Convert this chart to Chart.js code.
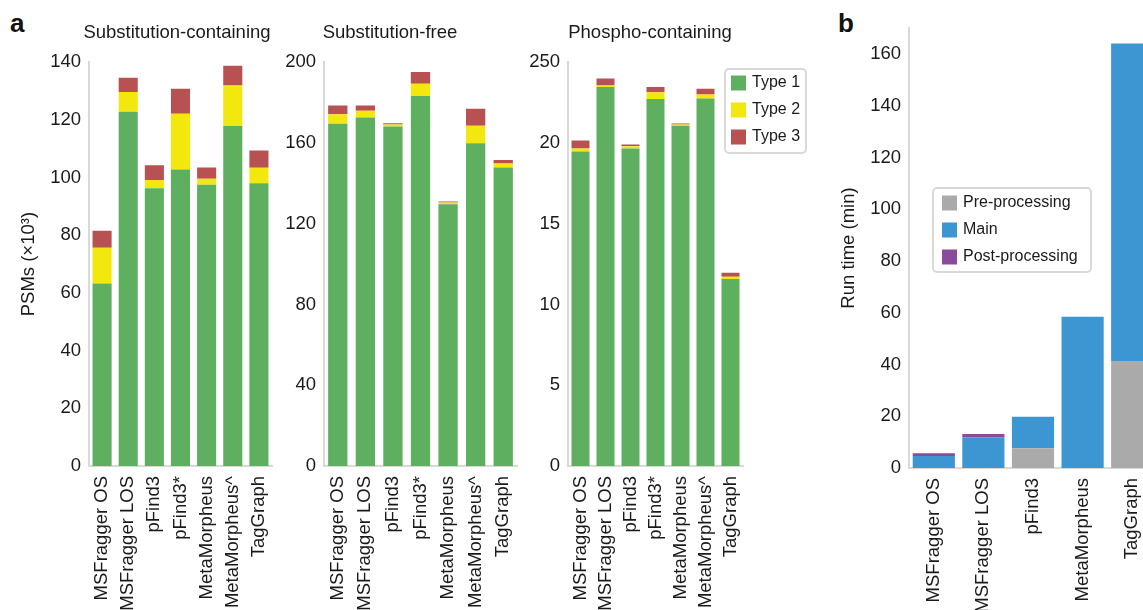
<!DOCTYPE html>
<html>
<head>
<meta charset="utf-8">
<script src="https://cdn.jsdelivr.net/npm/chart.js@4"></script>
<style>
  html, body { margin: 0; padding: 0; background: #fff; }
  body { width: 1143px; height: 610px; overflow: hidden; position: relative; font-family: "Liberation Sans", Arial, sans-serif; }
  .panel { position: absolute; top: 0; height: 610px; }
  .tag { position: absolute; font-weight: bold; font-size: 26px; line-height: 26px; color: #111; }
</style>
</head>
<body>
<div class="tag" style="left:10px; top:10px;">a</div>
<div class="tag" style="left:838px; top:10px;">b</div>
<div class="panel" style="left:0px; width:354px;"><canvas id="subChart"></canvas></div>
<div class="panel" style="left:230px; width:320px;"><canvas id="freeChart"></canvas></div>
<div class="panel" style="left:490px; width:320px;"><canvas id="phosphoChart"></canvas></div>
<div class="panel" style="left:820px; width:360px;"><canvas id="runChart"></canvas></div>
<script>
// categories
const tools = ['MSFragger OS', 'MSFragger LOS', 'pFind3', 'pFind3*', 'MetaMorpheus', 'MetaMorpheus^', 'TagGraph'];
const typeLabels = ['Type 1', 'Type 2', 'Type 3'];

// Substitution-containing PSMs (x10^3)
const subType1 = [63.3, 122.8, 96.3, 102.8, 97.5, 117.9, 98.0];
const subType2 = [12.4, 6.9, 2.9, 19.3, 2.1, 14.0, 5.4];
const subType3 = [5.9, 4.9, 5.1, 8.7, 3.9, 6.9, 6.0];
const subTicks = [0, 20, 40, 60, 80, 100, 120, 140];

// Substitution-free PSMs (x10^3)
const freeType1 = [169.5, 172.6, 168.2, 183.3, 129.6, 159.8, 147.9];
const freeType2 = [4.7, 3.3, 1.0, 6.0, 0.9, 8.7, 1.9];
const freeType3 = [4.4, 2.7, 0.6, 5.9, 0.5, 8.5, 1.8];
const freeTicks = [0, 40, 80, 120, 160, 200];

// Phospho-containing PSMs (x10^3)
const phosType1 = [19.47, 23.47, 19.66, 22.72, 21.07, 22.76, 11.57];
const phosType2 = [0.18, 0.08, 0.14, 0.42, 0.08, 0.24, 0.14];
const phosType3 = [0.51, 0.44, 0.10, 0.33, 0.06, 0.36, 0.25];
const phosTicks = [0, 5, 10, 15, 20, 25];
const phosTickLabels = ['0', '5', '10', '15', '20', '250'];

// Run time (min)
const runTools = ['MSFragger OS', 'MSFragger LOS', 'pFind3', 'MetaMorpheus', 'TagGraph'];
const stageLabels = ['Pre-processing', 'Main', 'Post-processing'];
const preTime = [0, 0, 7.6, 0, 41.3];
const mainTime = [4.6, 11.9, 12.2, 58.4, 122.7];
const postTime = [1.1, 1.2, 0, 0, 0];
const runTicks = [0, 20, 40, 60, 80, 100, 120, 140, 160];

const typeColors = ['#5eb060', '#f3e80e', '#b85152'];
const stageColors = ['#aaaaaa', '#3b96d2', '#8a4a9e'];
const fontFamily = '"Liberation Sans", Arial, sans-serif';
const textColor = '#1a1a1a';
const axisColor = '#d9d9d9';
const textSize = 18.5;

Chart.defaults.font.family = fontFamily;
Chart.defaults.color = textColor;
Chart.defaults.animation = false;

// legend drawn as a framed box at a fixed spot
const boxLegend = {
  id: 'boxLegend',
  afterDraw(chart, args, opts) {
    const ctx = chart.ctx;
    ctx.save();
    ctx.strokeStyle = axisColor;
    ctx.lineWidth = 2;
    ctx.beginPath();
    ctx.roundRect(opts.x, opts.y, opts.w, opts.h, 4);
    ctx.stroke();
    ctx.font = '16px ' + fontFamily;
    ctx.textBaseline = 'middle';
    opts.order.forEach((idx, k) => {
      const ds = chart.data.datasets[idx];
      const cy = opts.y + opts.first + k * opts.step;
      ctx.fillStyle = ds.backgroundColor;
      ctx.fillRect(opts.sx, cy - opts.box / 2, opts.box, opts.box);
      ctx.fillStyle = textColor;
      ctx.fillText(ds.label, opts.tx, cy);
    });
    ctx.restore();
  }
};

function makeDatasets(labels, colors, series, barPct) {
  return series.map((data, i) => ({
    label: labels[i],
    data: data,
    backgroundColor: colors[i],
    borderWidth: 0,
    barPercentage: barPct,
    categoryPercentage: 1
  }));
}

function stackedChart(id, cfg) {
  const ctx = document.getElementById(id).getContext('2d');
  const scales = {
    x: {
      stacked: true,
      grid: { display: false, drawTicks: false },
      border: { display: true, color: axisColor, width: 2 },
      ticks: {
        autoSkip: false,
        minRotation: 90,
        maxRotation: 90,
        padding: 10,
        font: { size: textSize },
        color: textColor
      },
      afterFit: scale => { scale.height = cfg.xHeight; }
    },
    y: {
      stacked: true,
      min: 0,
      max: cfg.yMax,
      grid: { display: false, drawTicks: false },
      border: { display: true, color: axisColor, width: 2 },
      title: cfg.yTitle ? {
        display: true,
        text: cfg.yTitle,
        font: { size: textSize },
        color: textColor,
        padding: { top: 18, bottom: 0 }
      } : { display: false },
      ticks: {
        padding: 8,
        font: { size: textSize },
        color: textColor,
        callback: (v, i) => cfg.tickLabels ? cfg.tickLabels[i] : String(v)
      },
      afterBuildTicks: scale => { scale.ticks = cfg.ticks.map(v => ({ value: v })); },
      afterFit: scale => { scale.width = cfg.yWidth; }
    }
  };
  // empty right-hand spacer so the panel title stays centred on the canvas
  if (cfg.rightPad) {
    scales.pad = {
      position: 'right',
      grid: { display: false, drawTicks: false },
      border: { display: false },
      ticks: { display: false },
      afterFit: scale => { scale.width = cfg.rightPad; }
    };
  }
  return new Chart(ctx, {
    type: 'bar',
    data: {
      labels: cfg.labels,
      datasets: makeDatasets(cfg.seriesLabels, cfg.colors, cfg.series, cfg.barPct)
    },
    plugins: cfg.legend ? [boxLegend] : [],
    options: {
      responsive: true,
      maintainAspectRatio: false,
      layout: { padding: cfg.padding },
      plugins: {
        legend: { display: false },
        tooltip: { enabled: false },
        title: cfg.title ? {
          display: true,
          text: cfg.title,
          font: { size: textSize, weight: 'normal' },
          color: textColor,
          padding: { top: 22, bottom: 18 }
        } : { display: false },
        boxLegend: cfg.legend || {}
      },
      scales: scales
    }
  });
}

stackedChart('subChart', {
  labels: tools, seriesLabels: typeLabels, colors: typeColors,
  series: [subType1, subType2, subType3],
  barPct: 0.73, yMax: 140, ticks: subTicks,
  title: 'Substitution-containing', yTitle: 'PSMs (×10³)',
  yWidth: 89, xHeight: 144, rightPad: 82, padding: { left: 0, right: 0, top: 0, bottom: 0 }
});

stackedChart('freeChart', {
  labels: tools, seriesLabels: typeLabels, colors: typeColors,
  series: [freeType1, freeType2, freeType3],
  barPct: 0.70, yMax: 200, ticks: freeTicks,
  title: 'Substitution-free',
  yWidth: 94, xHeight: 144, rightPad: 33, padding: { left: 0, right: 0, top: 0, bottom: 0 }
});

stackedChart('phosphoChart', {
  labels: tools, seriesLabels: typeLabels, colors: typeColors,
  series: [phosType1, phosType2, phosType3],
  barPct: 0.72, yMax: 25, ticks: phosTicks, tickLabels: phosTickLabels,
  title: 'Phospho-containing',
  yWidth: 78, xHeight: 144, rightPad: 67, padding: { left: 0, right: 0, top: 0, bottom: 0 },
  legend: { x: 235, y: 69, w: 81, h: 84, first: 14, step: 27, box: 15, sx: 241, tx: 262, order: [0, 1, 2] }
});

stackedChart('runChart', {
  labels: runTools, seriesLabels: stageLabels, colors: stageColors,
  series: [preTime, mainTime, postTime],
  barPct: 0.85, yMax: 170, ticks: runTicks,
  yTitle: 'Run time (min)',
  yWidth: 89, xHeight: 142, padding: { left: 0, right: 23, top: 28, bottom: 0 },
  legend: { x: 113, y: 188, w: 158, h: 84, first: 15, step: 27, box: 15, sx: 122, tx: 143, order: [0, 1, 2] }
});
</script>
</body>
</html>
